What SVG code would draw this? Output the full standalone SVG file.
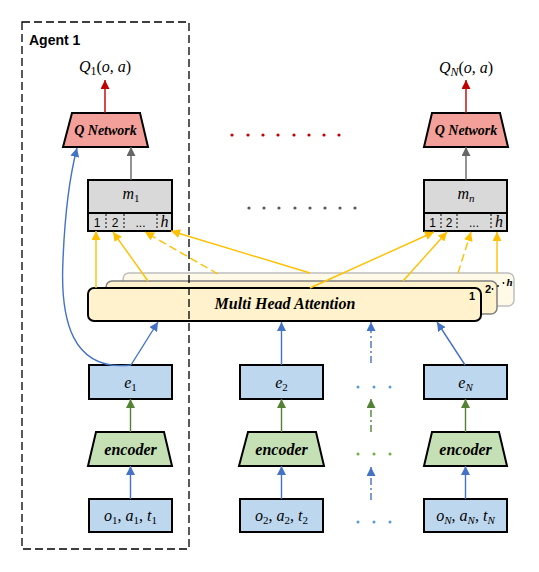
<svg xmlns="http://www.w3.org/2000/svg" width="539" height="572" viewBox="0 0 539 572">
<style>
.math{font-family:"Liberation Serif","DejaVu Serif",serif;font-style:italic;font-size:16px;fill:#000}
.up{font-style:normal}
.lbl{font-family:"Liberation Serif","DejaVu Serif",serif;font-style:italic;font-weight:bold;fill:#000}
.sans{font-family:"Liberation Sans","DejaVu Sans",sans-serif;fill:#000}
.box{stroke:#000;stroke-width:2}
.blue{fill:#BDD7EE}
.green{fill:#C5E0B4}
.red{fill:#F4A09A}
.gray{fill:#D9D9D9}
.cell{stroke:#000;stroke-width:1;stroke-dasharray:2 2}
.ln{fill:none;stroke-width:1.4}
.y{stroke:#FFC000}
.b{stroke:#4472C4}
.g{stroke:#548235}
.r{stroke:#C00000}
.k{stroke:#666}
.dash{stroke-dasharray:8 4}
.dd{stroke-dasharray:7 3 2 3}
</style>
<defs>
<marker id="ay" viewBox="0 0 10 10" refX="10" refY="5" markerWidth="9" markerHeight="9" markerUnits="userSpaceOnUse" orient="auto"><path d="M0,0 L10,5 L0,10 z" fill="#FFC000"/></marker>
<marker id="ab" viewBox="0 0 10 10" refX="10" refY="5" markerWidth="9" markerHeight="9" markerUnits="userSpaceOnUse" orient="auto"><path d="M0,0 L10,5 L0,10 z" fill="#4472C4"/></marker>
<marker id="ag" viewBox="0 0 10 10" refX="10" refY="5" markerWidth="9" markerHeight="9" markerUnits="userSpaceOnUse" orient="auto"><path d="M0,0 L10,5 L0,10 z" fill="#548235"/></marker>
<marker id="ar" viewBox="0 0 10 10" refX="10" refY="5" markerWidth="9" markerHeight="9" markerUnits="userSpaceOnUse" orient="auto"><path d="M0,0 L10,5 L0,10 z" fill="#C00000"/></marker>
<marker id="ak" viewBox="0 0 10 10" refX="10" refY="5" markerWidth="9" markerHeight="9" markerUnits="userSpaceOnUse" orient="auto"><path d="M0,0 L10,5 L0,10 z" fill="#666"/></marker>
</defs>
<rect width="539" height="572" fill="#fff"/>

<g id="q1-label"><text class="math" x="105" y="72" text-anchor="middle" font-size="17">Q<tspan class="up" font-size="12" dy="3">1</tspan><tspan class="up" dy="-3">(</tspan>o<tspan class="up">, </tspan>a<tspan class="up">)</tspan></text></g>
<g id="qn-label"><text class="math" x="466" y="73" text-anchor="middle" font-size="17">Q<tspan font-size="12" dy="3">N</tspan><tspan class="up" dy="-3">(</tspan>o<tspan class="up">, </tspan>a<tspan class="up">)</tspan></text></g>

<g id="qnet1"><path class="box red" d="M72,113 L140,113 L148,147 L63,147 Z"/><text class="lbl" font-size="14" x="105.5" y="135" text-anchor="middle">Q Network</text></g>
<g id="qnetN"><path class="box red" d="M432,113 L500,113 L508,147 L424,147 Z"/><text class="lbl" font-size="14" x="466" y="135" text-anchor="middle">Q Network</text></g>

<g id="m1">
<rect class="box gray" x="88" y="180" width="84" height="51"/>
<line x1="88" y1="213" x2="172" y2="213" stroke="#000" stroke-width="2"/>
<line class="cell" x1="106" y1="214" x2="106" y2="230"/><line class="cell" x1="124" y1="214" x2="124" y2="230"/><line class="cell" x1="157" y1="214" x2="157" y2="230"/>
<text class="math" x="131" y="199" text-anchor="middle">m<tspan class="up" font-size="11" dy="3">1</tspan></text>
<text class="sans" font-size="12" x="97" y="227" text-anchor="middle">1</text>
<text class="sans" font-size="12" x="115" y="227" text-anchor="middle">2</text>
<text class="sans" font-size="12" x="140.5" y="227" text-anchor="middle">...</text>
<text class="math" font-size="13" x="164.5" y="227" text-anchor="middle">h</text>
</g>
<g id="mn">
<rect class="box gray" x="424" y="180" width="83" height="51"/>
<line x1="424" y1="213" x2="507" y2="213" stroke="#000" stroke-width="2"/>
<line class="cell" x1="441" y1="214" x2="441" y2="230"/><line class="cell" x1="457" y1="214" x2="457" y2="230"/><line class="cell" x1="491" y1="214" x2="491" y2="230"/>
<text class="math" x="466" y="199" text-anchor="middle">m<tspan font-size="11" dy="3">n</tspan></text>
<text class="sans" font-size="12" x="432.5" y="227" text-anchor="middle">1</text>
<text class="sans" font-size="12" x="449" y="227" text-anchor="middle">2</text>
<text class="sans" font-size="12" x="474" y="227" text-anchor="middle">...</text>
<text class="math" font-size="13" x="499" y="227" text-anchor="middle">h</text>
</g>

<g id="dots">
<g fill="#C00000"><circle cx="232" cy="135" r="1.6"/><circle cx="248" cy="135" r="1.6"/><circle cx="263" cy="135" r="1.6"/><circle cx="278" cy="135" r="1.6"/><circle cx="294" cy="135" r="1.6"/><circle cx="309" cy="135" r="1.6"/><circle cx="324" cy="135" r="1.6"/><circle cx="339" cy="135" r="1.6"/></g>
<g fill="#595959"><circle cx="249" cy="208" r="1.6"/><circle cx="264" cy="208" r="1.6"/><circle cx="279" cy="208" r="1.6"/><circle cx="295" cy="208" r="1.6"/><circle cx="310" cy="208" r="1.6"/><circle cx="325" cy="208" r="1.6"/><circle cx="340" cy="208" r="1.6"/><circle cx="355" cy="208" r="1.6"/></g>
<g fill="#5B9BD5"><circle cx="358" cy="387" r="1.5"/><circle cx="374" cy="387" r="1.5"/><circle cx="390" cy="387" r="1.5"/><circle cx="358" cy="522" r="1.5"/><circle cx="374" cy="522" r="1.5"/><circle cx="390" cy="522" r="1.5"/></g>
<g fill="#70AD47"><circle cx="358" cy="454" r="1.5"/><circle cx="374" cy="454" r="1.5"/><circle cx="390" cy="454" r="1.5"/></g>
</g>

<g id="mha">
<rect x="123" y="273" width="391" height="33" rx="6" fill="#FFF9E8" stroke="#BFBFBF" stroke-width="1.5"/>
<rect x="106" y="281" width="391" height="33" rx="6" fill="#FFF2CC" stroke="#808080" stroke-width="1.5"/>
<rect x="88" y="288" width="393" height="33" rx="6" fill="#FFF2CC" stroke="#000" stroke-width="2"/>
<text class="lbl" font-size="16" x="285" y="309" text-anchor="middle">Multi Head Attention</text>
<text class="sans" font-weight="bold" font-size="11" x="472" y="300" text-anchor="middle">1</text>
<text class="sans" font-weight="bold" font-size="11" x="488" y="293" text-anchor="middle">2</text>
<circle cx="492.5" cy="289" r="0.9" fill="#000"/><circle cx="498" cy="286" r="0.9" fill="#000"/><circle cx="503.5" cy="283" r="0.9" fill="#000"/>
<text class="lbl" font-family="Liberation Sans" font-size="11" x="509.5" y="286" text-anchor="middle">h</text>
</g>

<g id="e1"><rect class="box blue" x="89" y="365" width="83" height="34"/><text class="math" x="130.5" y="388" text-anchor="middle">e<tspan class="up" font-size="11" dy="3">1</tspan></text></g>
<g id="e2"><rect class="box blue" x="240" y="365" width="83" height="34"/><text class="math" x="281.5" y="388" text-anchor="middle">e<tspan class="up" font-size="11" dy="3">2</tspan></text></g>
<g id="eN"><rect class="box blue" x="424" y="365" width="83" height="34"/><text class="math" x="465.5" y="388" text-anchor="middle">e<tspan font-size="11" dy="3">N</tspan></text></g>

<g id="enc1"><path class="box green" d="M96,432 L164,432 L172,466 L88,466 Z"/><text class="lbl" font-size="16" x="130.5" y="455" text-anchor="middle">encoder</text></g>
<g id="enc2"><path class="box green" d="M248,432 L316,432 L324,466 L239,466 Z"/><text class="lbl" font-size="16" x="281.5" y="455" text-anchor="middle">encoder</text></g>
<g id="encN"><path class="box green" d="M432,432 L499,432 L507,466 L424,466 Z"/><text class="lbl" font-size="16" x="465.5" y="455" text-anchor="middle">encoder</text></g>

<g id="in1"><rect class="box blue" x="89" y="499" width="83" height="33"/><text class="math" x="130.5" y="521" text-anchor="middle">o<tspan class="up" font-size="11" dy="3">1</tspan><tspan class="up" dy="-3">, </tspan>a<tspan class="up" font-size="11" dy="3">1</tspan><tspan class="up" dy="-3">, </tspan>t<tspan class="up" font-size="11" dy="3">1</tspan></text></g>
<g id="in2"><rect class="box blue" x="240" y="499" width="83" height="33"/><text class="math" x="281.5" y="521" text-anchor="middle">o<tspan class="up" font-size="11" dy="3">2</tspan><tspan class="up" dy="-3">, </tspan>a<tspan class="up" font-size="11" dy="3">2</tspan><tspan class="up" dy="-3">, </tspan>t<tspan class="up" font-size="11" dy="3">2</tspan></text></g>
<g id="inN"><rect class="box blue" x="424" y="499" width="83" height="33"/><text class="math" x="465.5" y="521" text-anchor="middle">o<tspan font-size="11" dy="3">N</tspan><tspan class="up" dy="-3">, </tspan>a<tspan font-size="11" dy="3">N</tspan><tspan class="up" dy="-3">, </tspan>t<tspan font-size="11" dy="3">N</tspan></text></g>

<g id="connectors">
<line class="ln r" x1="105" y1="113" x2="105" y2="80" marker-end="url(#ar)"/>
<line class="ln r" x1="466" y1="113" x2="466" y2="80" marker-end="url(#ar)"/>
<line class="ln k" x1="131" y1="180" x2="131" y2="147" marker-end="url(#ak)"/>
<line class="ln k" x1="466" y1="180" x2="466" y2="147" marker-end="url(#ak)"/>
<line class="ln y" x1="96" y1="288" x2="96" y2="231" marker-end="url(#ay)"/>
<line class="ln y" x1="148" y1="281" x2="113" y2="232" marker-end="url(#ay)"/>
<line class="ln y dash" x1="218" y1="274" x2="145" y2="232" marker-end="url(#ay)"/>
<line class="ln y" x1="310" y1="273" x2="171" y2="231" marker-end="url(#ay)"/>
<line class="ln y" x1="310" y1="288" x2="434" y2="232" marker-end="url(#ay)"/>
<line class="ln y" x1="403" y1="281" x2="447" y2="232" marker-end="url(#ay)"/>
<line class="ln y dash" x1="458" y1="273" x2="471" y2="232" marker-end="url(#ay)"/>
<line class="ln y" x1="497" y1="273" x2="497" y2="232" marker-end="url(#ay)"/>
<line class="ln b" x1="131" y1="365" x2="158" y2="322" marker-end="url(#ab)"/>
<line class="ln b" x1="281.5" y1="365" x2="281.5" y2="322" marker-end="url(#ab)"/>
<line class="ln b dd" x1="371" y1="363" x2="371" y2="322" marker-end="url(#ab)"/>
<line class="ln b" x1="465" y1="365" x2="437" y2="322" marker-end="url(#ab)"/>
<path class="ln b" d="M131,365 C72,372 60,320 63,260 C65,210 70,175 77,148" marker-end="url(#ab)"/>
<line class="ln g" x1="130.5" y1="432" x2="130.5" y2="399" marker-end="url(#ag)"/>
<line class="ln g" x1="281.5" y1="432" x2="281.5" y2="399" marker-end="url(#ag)"/>
<line class="ln g dd" x1="371" y1="432" x2="371" y2="399" marker-end="url(#ag)"/>
<line class="ln g" x1="465.5" y1="432" x2="465.5" y2="399" marker-end="url(#ag)"/>
<line class="ln b" x1="130.5" y1="499" x2="130.5" y2="466" marker-end="url(#ab)"/>
<line class="ln b" x1="281.5" y1="499" x2="281.5" y2="466" marker-end="url(#ab)"/>
<line class="ln b dd" x1="371" y1="500" x2="371" y2="467" marker-end="url(#ab)"/>
<line class="ln b" x1="465.5" y1="499" x2="465.5" y2="466" marker-end="url(#ab)"/>
</g>

<g id="agent1">
<rect x="22" y="22" width="167" height="527" fill="none" stroke="#000" stroke-width="1.3" stroke-dasharray="8 4"/>
<text class="sans" font-weight="bold" font-size="14" x="29" y="45">Agent 1</text>
</g>
</svg>
